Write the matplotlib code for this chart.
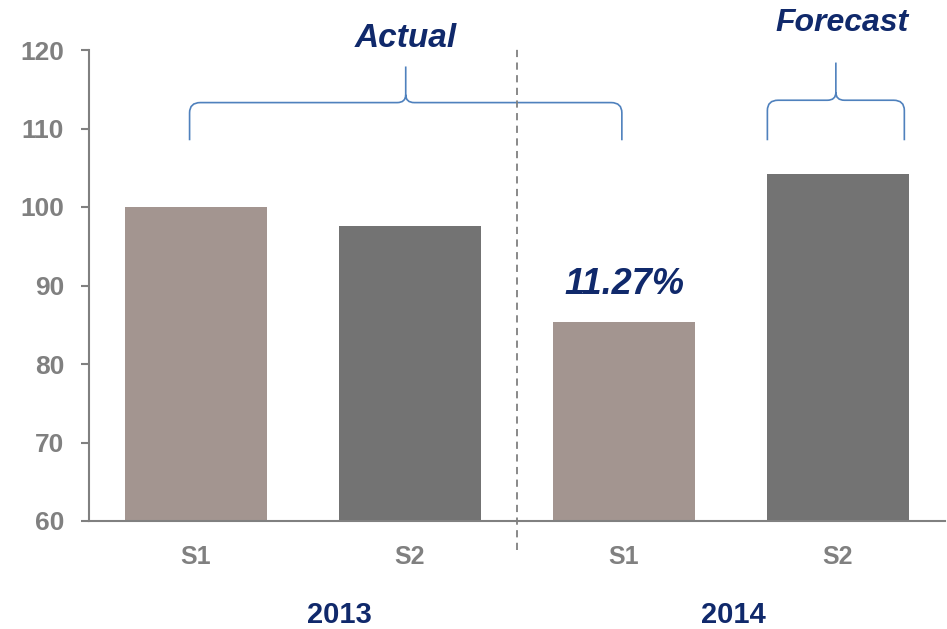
import numpy as np
import matplotlib
matplotlib.use("Agg")
from matplotlib import pyplot as plt
from matplotlib.path import Path
from matplotlib.patches import PathPatch

# ----------
# Data

periods = ["S1", "S2", "S1", "S2"]
years = ["2013", "2014"]
year_pos = [0.67, 2.51]
values = [100.0, 97.6, 85.4, 104.2]
bar_colors = ["#A39590", "#737373", "#A39590", "#737373"]

# brace spans: (left, right, tip) in category units
groups = ["Actual", "Forecast"]
brace_spans = [(-0.03, 1.99, 0.98), (2.67, 3.31, 2.99)]
change_label = "11.27%"

navy = "#10296B"
gray = "#808080"
blue = "#4F81BD"

# ----------
# Figure Setup

fig = plt.figure(figsize=(9.47, 6.29), dpi=100)
ax = fig.add_axes([89/947, 1-521/629, (945-89)/947, (521-50)/629])

x = np.arange(len(values))
ax.bar(x, values, width=0.667, color=bar_colors, bottom=0)
ax.set_xlim(-0.5, 3.5)
ax.set_ylim(60, 120)
ax.set_yticks(np.arange(60, 121, 10))

for s in ["top", "right"]:
    ax.spines[s].set_visible(False)
for s in ["left", "bottom"]:
    ax.spines[s].set_color(gray)
    ax.spines[s].set_linewidth(1.5)

ax.tick_params(axis="y", colors=gray, length=6, width=1.5, pad=12, labelsize=19)
ax.tick_params(axis="x", colors=gray, length=0, pad=17, labelsize=18)
ax.set_xticks(x)
ax.set_xticklabels(periods)
for lab in ax.get_yticklabels() + ax.get_xticklabels():
    lab.set_fontweight("bold")
    lab.set_family("Liberation Sans")

# year labels
for xp, yr in zip(year_pos, years):
    ax.text(xp, -0.2, yr, transform=ax.get_xaxis_transform(),
            ha="center", va="center", fontsize=21, fontweight="bold",
            color=navy, family="Liberation Sans")

# divider
ax.plot([1.5, 1.5], [56.3, 120.6], ls=(0, (4, 3)), color=gray, lw=1.3, clip_on=False)

# ----------
# Braces


def brace(x0, x1, xm, yb=108.5, ymid=113.3, ytip=117.9):
    rx, ry = 0.05, 1.3
    tx, ty = 0.04, 1.0
    verts = [
        (x0, yb), (x0, ymid - ry), (x0, ymid), (x0 + rx, ymid),
        (xm - tx, ymid), (xm, ymid), (xm, ymid + ty), (xm, ytip),
        (xm, ymid + ty), (xm, ymid), (xm + tx, ymid),
        (x1 - rx, ymid), (x1, ymid), (x1, ymid - ry), (x1, yb),
    ]
    codes = [Path.MOVETO, Path.LINETO, Path.CURVE3, Path.CURVE3,
             Path.LINETO, Path.CURVE3, Path.CURVE3, Path.LINETO,
             Path.MOVETO, Path.CURVE3, Path.CURVE3,
             Path.LINETO, Path.CURVE3, Path.CURVE3, Path.LINETO]
    ax.add_patch(PathPatch(Path(verts, codes), fill=False, edgecolor=blue,
                           lw=1.2, clip_on=False))


for (x0, x1, xm), name, ty, fs in zip(brace_spans, groups, [121.5, 123.4], [24, 23]):
    brace(x0, x1, xm, ymid=113.3 if name == "Actual" else 113.6,
          ytip=117.9 if name == "Actual" else 118.4)
    ax.text(xm + (0.0 if name == "Actual" else 0.03), ty, name, ha="center", va="center",
            fontsize=fs, fontweight="bold", fontstyle="italic", color=navy,
            family="Liberation Sans", clip_on=False)

ax.text(2, 90.1, change_label, ha="center", va="center", fontsize=26,
        fontweight="bold", fontstyle="italic", color=navy, family="Liberation Sans")

fig.savefig("out.png", dpi=100)
